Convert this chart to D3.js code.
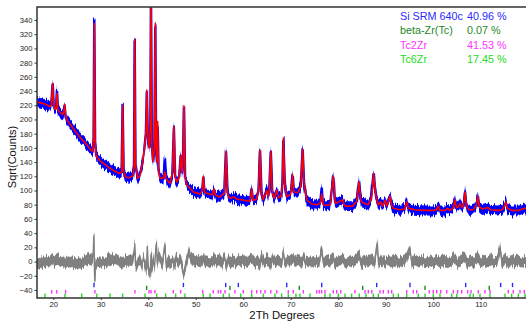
<!DOCTYPE html>
<html><head><meta charset="utf-8">
<script src="https://cdn.jsdelivr.net/npm/d3@7"></script>
<style>
body{margin:0;background:#fff}
svg{display:block}
text{font-family:"Liberation Sans",Arial,sans-serif}
</style>
</head><body>
<svg id="chart" width="526" height="323"></svg>
<script>
// ---- data (2Theta degrees, sqrt(counts)) ----
const calcProfile = [
[16.5,225],[17.5,223],[18.5,221],[19.3,218],[19.6,222],[19.85,251],[20.1,220],[20.4,214],[20.6,218],[20.78,237],[20.95,214],
[21.4,210],[21.9,207],[22.2,210],[22.4,221],[22.6,205],[23.0,198],[24.0,189],[25.0,180],[26.0,172],[27.0,165],[27.8,158],
[28.3,155],[28.5,175],[28.63,335],[28.8,170],[29.05,148],[30.0,141],[31.0,136],[32.0,131],[33.0,127],[34.0,124],[34.4,126],
[34.6,220],[34.8,128],[35.2,119],[36.0,118],[36.8,121],[37.0,135],[37.14,312],[37.3,135],[37.77,117],[38.3,122],[38.8,140],
[39.2,160],[39.5,180],[39.7,241],[39.9,175],[40.2,160],[40.45,190],[40.57,375],[40.75,165],[41.0,141],[41.3,160],[41.48,335],
[41.65,160],[41.85,140],[41.98,197],[42.15,130],[42.47,117],[43.2,118],[43.5,126],[43.8,116],[44.57,110],[45.1,125],[45.4,190],
[45.65,120],[45.98,112],[46.5,118],[46.83,150],[47.1,125],[47.3,140],[47.52,219],[47.75,120],[48.09,108],[49.5,98],[50.9,95],
[51.35,100],[51.58,120],[51.85,98],[52.3,96],[53.5,94],[53.84,102],[54.2,93],[55.1,91],[56.0,96],[56.37,155],[56.7,95],
[57.2,89],[58.0,91],[58.6,88],[59.5,87],[60.5,86],[61.4,85],[61.78,102],[62.1,86],[62.8,88],[63.2,100],[63.52,157],[63.85,95],
[64.2,87],[64.94,100],[65.2,92],[65.5,100],[65.8,155],[66.1,97],[66.5,89],[67.05,100],[67.4,90],[68.0,92],[68.25,110],
[68.45,174],[68.75,110],[69.15,91],[70.0,95],[70.38,122],[70.65,98],[71.5,97],[72.1,105],[72.5,158],[72.8,110],[73.36,87],
[74.4,81],[75.5,80],[76.2,82],[76.52,95],[76.8,81],[77.2,79],[78.3,80],[78.96,120],[79.3,85],[79.53,82],[80.94,87],[81.3,79],
[81.8,78],[83.0,78],[83.9,85],[84.37,112],[84.7,88],[85.07,83],[86.33,80],[86.9,88],[87.1,95],[87.45,124],[87.7,105],[88.0,90],
[88.43,80],[88.9,84],[89.3,78],[89.84,86],[90.2,78],[90.9,92],[91.3,78],[91.6,75],[93.0,73],[94.0,74],[94.4,84],[94.8,75],
[96.0,73],[98.0,72],[100.0,72],[100.7,73],[101.07,78],[101.4,72],[102.5,72],[103.0,75],[103.5,72],[104.2,75],[104.58,87],
[104.9,76],[105.3,77],[105.64,82],[106.0,76],[106.4,80],[106.7,98],[107.0,78],[107.5,73],[108.5,73],[109.1,80],[109.4,92],
[109.7,77],[110.3,74],[111.5,76],[112.0,73],[113.5,72],[114.5,73],[115.0,78],[115.3,84],[115.6,75],[116.5,72],[118.0,72],
[118.8,74],[119.3,75],[119.8,74]
];
// observed intensities where they differ visibly from the calculated curve
const obsOverrides = [
[20.78,240],[28.63,342],[34.6,222],[37.14,314],[43.5,144],[46.83,151],[41.98,190],[68.45,172],[76.52,104],[87.1,104]
];
const diffProfile = [
[16.5,-2],[17,-3],[17.5,0],[18,-2],[18.5,1],[19,-1],[19.5,2],[19.85,5],[20.1,-1],[20.5,2],[21,3],[21.5,0],[22,2],[22.4,-4],
[22.8,1],[23.5,-1],[24,0],[24.5,-3],[25,-4],[25.5,-2],[26,-3],[26.5,0],[27,2],[27.5,3],[28,2],[28.4,8],[28.55,38],[28.65,-5],
[28.75,-28],[28.9,-6],[29.2,-1],[30,-2],[30.5,1],[31,-2],[31.5,2],[32,1],[32.5,3],[33,2],[33.5,4],[34,-1],[34.6,-3],[35,2],
[35.5,0],[36,2],[36.5,1],[36.9,8],[37.14,24],[37.35,-8],[37.8,0],[38.3,3],[38.7,-6],[39.0,6],[39.3,-4],[39.65,-12],[39.8,22],
[40.0,-8],[40.2,-16],[40.4,-18],[40.6,12],[40.75,-14],[41.0,5],[41.3,-8],[41.5,12],[41.7,26],[41.9,-4],[42.2,10],[42.6,2],
[43.0,-4],[43.5,25],[43.8,-6],[44.3,0],[44.8,-3],[45.2,4],[45.5,-8],[45.8,5],[46.3,-2],[46.8,5],[47.2,-10],[47.5,-18],
[47.8,-8],[48.2,3],[48.6,14],[49,4],[49.5,0],[50,2],[51,-1],[51.6,6],[52,-2],[52.5,1],[53,-2],[53.8,3],[54.5,-1],[55,2],
[55.5,-3],[56.1,8],[56.4,-8],[56.8,3],[57.3,-2],[58,1],[58.5,-1],[59,3],[59.5,0],[60,2],[60.5,-2],[61,1],[61.8,6],[62.3,-2],
[63,1],[63.5,-6],[63.8,7],[64.3,-1],[65,3],[65.8,-4],[66.2,5],[66.8,0],[67.5,2],[68.1,-3],[68.45,16],[68.8,-3],[69.2,3],
[69.8,-1],[70.4,6],[71,0],[71.6,3],[72.3,-3],[72.7,8],[73.2,-1],[74,2],[74.6,-2],[75.2,1],[76,-1],[76.5,17],[76.9,-3],
[77.5,2],[78.2,-1],[78.9,7],[79.4,-3],[80,1],[80.9,4],[81.5,-2],[82.2,1],[83,-1],[83.8,3],[84.4,8],[84.9,-3],[85.6,2],
[86.3,-1],[87,4],[87.6,-4],[88.2,26],[88.5,-3],[89.1,3],[89.8,-2],[90.5,3],[91.2,-2],[92,2],[92.8,-2],[93.5,1],[94.3,4],
[95.1,17],[95.5,-2],[96.3,2],[97,-1],[97.8,2],[98.5,-2],[99.3,1],[100,-1],[100.8,2],[101.5,-2],[102.2,2],[103,-2],[103.8,1],
[104.6,6],[105.2,-3],[105.9,3],[106.6,8],[107.1,-3],[107.8,1],[108.5,-2],[109.4,6],[110,-1],[110.7,2],[111.4,-2],[112.1,3],
[112.8,-1],[113.5,2],[114.1,20],[114.5,-2],[115.2,4],[115.8,-3],[116.5,3],[117.2,-1],[117.9,2],[118.6,-2],[119.3,2],[119.8,0]
];
// reflection positions per phase
const siRefl = [28.57,47.4,56.3,58.96,69.15,76.52,88.1,95.1,106.84,114.2,116.7];
const betaRefl = [39.66,57.2,71.8,85.15,98.27,111.8];
const tc2Refl = [19.66,20.71,22.6,28.78,37.2,40.15,40.57,41.41,45.27,46.82,51.45,53.69,54.74,55.25,56.16,58.26,60.01,61.78,
62.83,63.67,64.58,65.78,67.04,69.49,70.54,72.64,75.46,76.01,76.52,77.21,78.96,79.68,80.52,83.53,85.64,86.33,87.05,88.79,
89.49,90.54,91.26,94.42,95.81,96.52,99.17,100.02,100.73,101.57,102.84,104.23,105.15,106.0,107.26,107.96,109.49,110.9,
111.96,115.81,116.86,118.27,119.18];
const tc6Refl = [18.25,22.46,25.98,29.14,31.94,34.61,39.31,41.77,43.67,45.77,47.73,51.59,53.0,55.8,57.06,59.46,61.78,64.22,
66.68,68.09,69.49,71.1,71.95,74.05,77.21,78.27,80.01,81.42,82.83,84.43,85.85,87.38,88.44,91.6,92.65,94.42,96.86,98.27,
100.02,101.43,103.89,104.94,107.74,108.44,109.85,111.96,115.11,116.52,117.92,119.33];
const phaseNames = ["Si SRM 640c","beta-Zr(Tc)","Tc2Zr","Tc6Zr"];
const phasePercents = ["40.96 %","0.07 %","41.53 %","17.45 %"];
const xTickValues = [20,30,40,50,60,70,80,90,100,110];
const yTickValues = [-40,-20,0,20,40,60,80,100,120,140,160,180,200,220,240,260,280,300,320,340];

// ---- layout ----
const svg = d3.select("#chart");
const L = 37, R = 527, T = 7, B = 298;
const x = d3.scaleLinear().domain([16.57, 119.75]).range([L, R]);
const y = d3.scaleLinear().domain([-51.3, 358.3]).range([B, T]);

const defs = svg.append("defs");
defs.append("clipPath").attr("id","clip")
  .append("rect").attr("x",L).attr("y",T).attr("width",R-L).attr("height",B-T);
// jagged texture for the noisy bands (rendering style only)
const f = defs.append("filter").attr("id","jag").attr("x","-2%").attr("y","-10%").attr("width","104%").attr("height","120%");
f.append("feTurbulence").attr("type","fractalNoise").attr("baseFrequency","0.9 0.03").attr("numOctaves",2).attr("seed",4).attr("result","t");
f.append("feColorMatrix").attr("in","t").attr("type","matrix")
  .attr("values","0 0 0 0 0.5  0 1 0 0 0  0 0 0 0 0  0 0 0 0 1").attr("result","m");
f.append("feDisplacementMap").attr("in","SourceGraphic").attr("in2","m").attr("scale",9)
  .attr("xChannelSelector","R").attr("yChannelSelector","G");

const g = svg.append("g").attr("clip-path","url(#clip)");

const ov = new Map(obsOverrides.map(d => [d[0], d[1]]));
const obs = calcProfile.map(d => [d[0], ov.has(d[0]) ? ov.get(d[0]) : d[1]]);
const band = 7;

// observed band
const og = g.append("g").attr("filter","url(#jag)");
og.append("path").datum(obs)
  .attr("d", d3.area().x(d=>x(d[0])).y0(d=>y(d[1]-band)).y1(d=>y(d[1]+band)))
  .attr("fill","#0000ff");
og.append("path").datum(obs)
  .attr("d", d3.line().x(d=>x(d[0])).y(d=>y(d[1])))
  .attr("fill","none").attr("stroke","#0000ff").attr("stroke-width",2.5);
// calculated
g.append("path").datum(calcProfile)
  .attr("d", d3.line().x(d=>x(d[0])).y(d=>y(d[1])))
  .attr("fill","none").attr("stroke","#ff0000").attr("stroke-width",1.6).attr("stroke-linejoin","round");
// difference
const dg = g.append("g").attr("filter","url(#jag)");
dg.append("path").datum(diffProfile)
  .attr("d", d3.area().x(d=>x(d[0])).y0(d=>y(d[1]-7.5)).y1(d=>y(d[1]+7.5)))
  .attr("fill","#808080");
dg.append("path").datum(diffProfile)
  .attr("d", d3.line().x(d=>x(d[0])).y(d=>y(d[1])))
  .attr("fill","none").attr("stroke","#808080").attr("stroke-width",1.5);

// reflection ticks
const rows = [
  {data: siRefl, c:"#2a2aff", top:-30, bot:-36},
  {data: betaRefl, c:"#1f8a1f", top:-34, bot:-40},
  {data: tc2Refl, c:"#ff33ff", top:-40, bot:-45},
  {data: tc6Refl, c:"#22dd22", top:-45, bot:-50.5}
];
rows.forEach(r => {
  g.append("g").selectAll("line").data(r.data).join("line")
    .attr("x1", d=>x(d)).attr("x2", d=>x(d))
    .attr("y1", y(r.top)).attr("y2", y(r.bot))
    .attr("stroke", r.c).attr("stroke-width",1.4);
});

// axes
const ya = svg.append("g").attr("transform",`translate(${L},0)`)
  .call(d3.axisLeft(y).tickValues(yTickValues).tickSize(2.5).tickPadding(2));
const xa = svg.append("g").attr("transform",`translate(0,${B})`)
  .call(d3.axisBottom(x).tickValues(xTickValues).tickSize(2).tickPadding(2));
[ya, xa].forEach(a => {
  a.select(".domain").remove();
  a.selectAll("line").attr("stroke","#333");
  a.selectAll("text").attr("font-size","7.6px").attr("fill","#222")
    .attr("font-family",'"Liberation Sans",Arial,sans-serif');
});

// frame
svg.append("path").attr("d",`M${R},${T}H${L}V${B}H${R}`)
  .attr("fill","none").attr("stroke","#333").attr("stroke-width",1.5);

// axis titles
svg.append("text").attr("transform","translate(16,157) rotate(-90)")
  .attr("text-anchor","middle").attr("font-size","11px").attr("fill","#111").text("Sqrt(Counts)");
svg.append("text").attr("x",282).attr("y",319)
  .attr("text-anchor","middle").attr("font-size","11.3px").attr("fill","#111").text("2Th Degrees");

// legend
const legColors = ["#2a2aff","#1f8a1f","#ff33ff","#22dd22"];
phaseNames.forEach((n,i) => {
  svg.append("text").attr("x",400).attr("y",19.7+i*14.5).attr("font-size","10.8px")
    .attr("fill",legColors[i]).text(n);
  svg.append("text").attr("x",467).attr("y",19.7+i*14.5).attr("font-size","10.8px")
    .attr("fill",legColors[i]).text(phasePercents[i]);
});
</script>
</body></html>
